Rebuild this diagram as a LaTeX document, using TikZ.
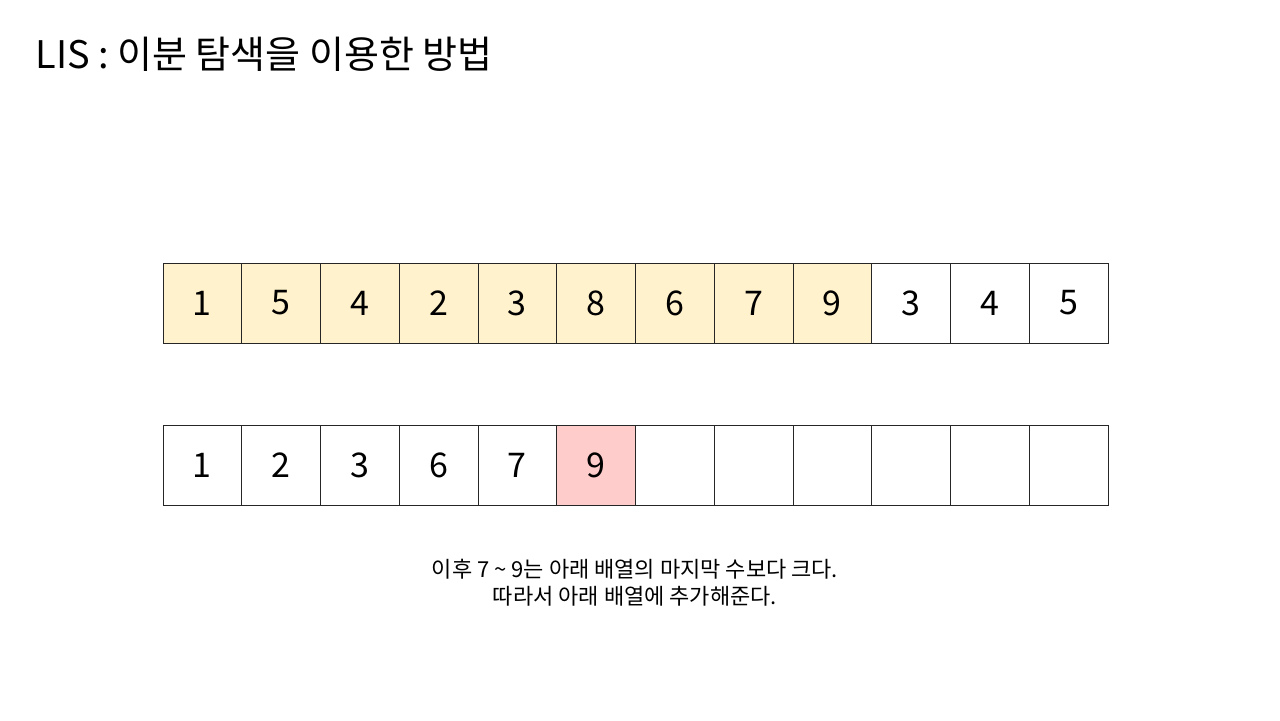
\documentclass[tikz,border=0pt]{standalone}
\usepackage{fontspec}
\setmainfont{Noto Sans CJK KR}
\usetikzlibrary{positioning}
\definecolor{seqfill}{HTML}{FFF2CC}
\definecolor{hitfill}{HTML}{FFCCCC}
\tikzset{
    cell/.style={draw=black!85,line width=0.5pt,minimum width=39.375pt,minimum height=40pt,inner sep=0pt,outer sep=0pt,font=\fontsize{17}{20}\selectfont},
    seq cell/.style={cell,fill=seqfill},
    hit cell/.style={cell,fill=hitfill},
    title text/.style={anchor=base west,inner sep=0pt,font=\fontsize{19}{23}\selectfont},
    note text/.style={align=center,inner sep=0pt,font=\fontsize{11}{13.5}\selectfont},
}

\begin{document}
\begin{tikzpicture}[x=0.5pt,y=-0.5pt]
    \useasboundingbox (0,0) rectangle (1280,720);
    \node[title text] (title) at (35,68) {LIS : 이분 탐색을 이용한 방법};
    % input sequence
    \foreach \v [count=\i] in {1,5,4,2,3,8,6,7,9,3,4,5} {
        \ifnum\i<10
            \node[seq cell] (a\i) at ({163+78.75*(\i-0.5)},303) {\v};
        \else
            \node[cell] (a\i) at ({163+78.75*(\i-0.5)},303) {\v};
        \fi
    }
    % lis array
    \foreach \v [count=\i] in {1,2,3,6,7,9,{},{},{},{},{},{}} {
        \ifnum\i=6
            \node[hit cell] (b\i) at ({163+78.75*(\i-0.5)},465) {\v};
        \else
            \node[cell] (b\i) at ({163+78.75*(\i-0.5)},465) {\v};
        \fi
    }
    \node[note text] (note) at (635,583) {이후 7 \textasciitilde{} 9는 아래 배열의 마지막 수보다 크다.\\따라서 아래 배열에 추가해준다.};
\end{tikzpicture}
\end{document}
